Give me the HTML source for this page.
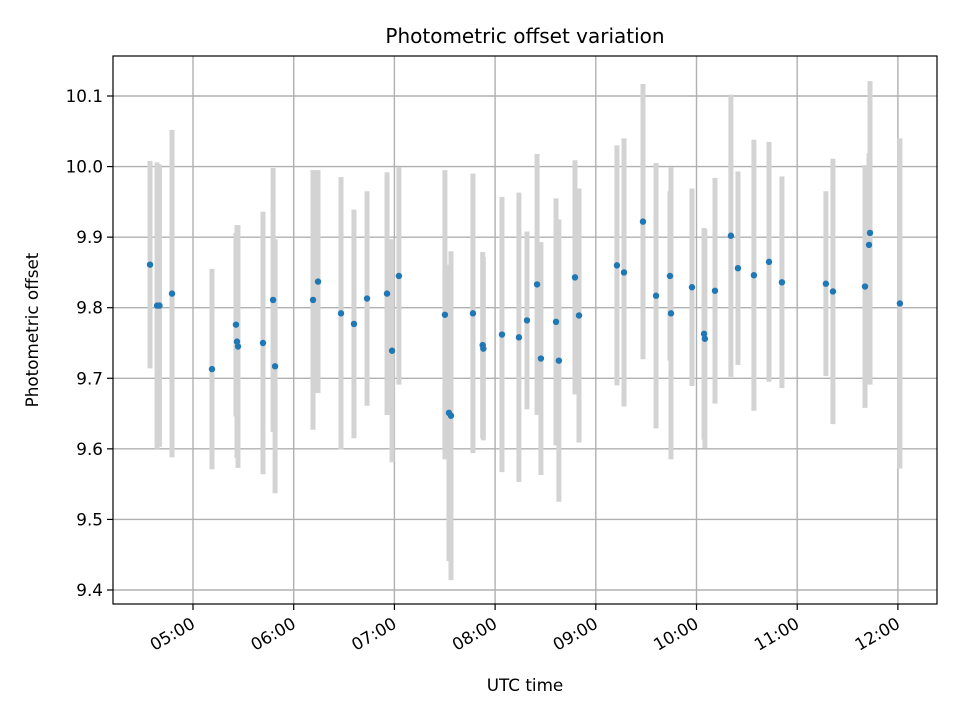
<!DOCTYPE html>
<html><head><meta charset="utf-8"><style>
html,body{margin:0;padding:0;background:#fff;}
svg{display:block;font-family:"DejaVu Sans","Liberation Sans",sans-serif;}
</style></head><body>
<svg id="chart" width="960" height="720" viewBox="0 0 960 720" xmlns="http://www.w3.org/2000/svg">
<rect x="0" y="0" width="960" height="720" fill="#fff"/>
<g id="grid"></g>
<g id="errs"></g>
<g id="pts"></g>
<rect x="113" y="56" width="824" height="548" fill="none" stroke="#000" stroke-width="1.2"/>
<g id="axes"></g>
<text x="525" y="43" text-anchor="middle" font-size="20">Photometric offset variation</text>
<text x="525" y="691" text-anchor="middle" font-size="16.8">UTC time</text>
<text transform="translate(38,330) rotate(-90)" text-anchor="middle" font-size="16.8">Photometric offset</text>
</svg>
<script>
// times in minutes since midnight UTC
const times = [274.4,278.6,280,287.5,311.3,325.6,326.2,326.8,341.7,347.7,348.9,371.5,374.5,388.2,395.9,403.7,415.6,418.6,422.7,450.1,452.5,453.7,466.8,472.6,473.0,484.1,494.2,499,505,507.3,516.3,518,527.6,530,552.6,556.8,568.1,575.9,584.2,584.8,597.3,604.5,605,611,620.5,624.7,634.2,643.2,650.9,677.1,681.3,700.4,702.8,703.4,721.2];
const offsets = [9.861,9.803,9.803,9.820,9.713,9.776,9.752,9.745,9.750,9.811,9.717,9.811,9.837,9.792,9.777,9.813,9.820,9.739,9.845,9.790,9.651,9.647,9.792,9.747,9.742,9.762,9.758,9.782,9.833,9.728,9.780,9.725,9.843,9.789,9.860,9.850,9.922,9.817,9.845,9.792,9.829,9.763,9.756,9.824,9.902,9.856,9.846,9.865,9.836,9.834,9.823,9.830,9.889,9.906,9.806];
const errors = [0.147,0.203,0.2,0.232,0.142,0.13,0.165,0.172,0.186,0.187,0.18,0.184,0.158,0.193,0.162,0.152,0.172,0.158,0.154,0.205,0.21,0.233,0.198,0.132,0.13,0.195,0.205,0.126,0.185,0.165,0.175,0.2,0.166,0.18,0.17,0.19,0.195,0.188,0.12,0.207,0.14,0.15,0.155,0.16,0.2,0.137,0.192,0.17,0.15,0.131,0.188,0.172,0.13,0.215,0.234];
const yTicks = [9.4,9.5,9.6,9.7,9.8,9.9,10.0,10.1];
const yTickLabels = ["9.4","9.5","9.6","9.7","9.8","9.9","10.0","10.1"];
const xTicks = [300,360,420,480,540,600,660,720];
const xTickLabels = ["05:00","06:00","07:00","08:00","09:00","10:00","11:00","12:00"];

const NS="http://www.w3.org/2000/svg";
const L=113,R=937,T=56,B=604;
const xMin=252.33,xMax=743.3;
const yAt=v=>96+(10.1-v)*705.7;
const xAt=m=>L+(m-xMin)/(xMax-xMin)*(R-L);
function mk(tag,attrs,parent){const e=document.createElementNS(NS,tag);for(const k in attrs)e.setAttribute(k,attrs[k]);parent.appendChild(e);return e;}
const grid=document.getElementById('grid'),axes=document.getElementById('axes'),errs=document.getElementById('errs'),pts=document.getElementById('pts');
yTicks.forEach((v,i)=>{
  const y=yAt(v);
  const g=mk('line',{x1:L,x2:R,y1:y,y2:y,stroke:'#b0b0b0','stroke-width':1.4},grid);
  
  
  const t=mk('line',{x1:L-6,x2:L,y1:y,y2:y,stroke:'#000','stroke-width':1.2},axes);
  
  
  const l=mk('text',{x:L-10,y:y+6,'text-anchor':'end','font-size':16.8},axes);
  l.textContent=yTickLabels[i];
  
  
});
xTicks.forEach((m,i)=>{
  const x=xAt(m);
  const g=mk('line',{x1:x,x2:x,y1:T,y2:B,stroke:'#b0b0b0','stroke-width':1.4},grid);
  
  
  const t=mk('line',{x1:x,x2:x,y1:B,y2:B+6,stroke:'#000','stroke-width':1.2},axes);
  
  
  const l=mk('text',{transform:`translate(${x-3},${B+12}) rotate(-30)`,'text-anchor':'end','font-size':16.8,dy:'0.75em'},axes);
  l.textContent=xTickLabels[i];
  
  
});
times.forEach((m,i)=>{
  const x=xAt(m);
  const e=mk('line',{x1:x,x2:x,y1:yAt(offsets[i]+errors[i]),y2:yAt(offsets[i]-errors[i]),stroke:'#d3d3d3','stroke-width':5},errs);
  
  
  const c=mk('circle',{cx:x,cy:yAt(offsets[i]),r:3.2,fill:'#1f77b4'},pts);
  
  
});
</script>
</body></html>
